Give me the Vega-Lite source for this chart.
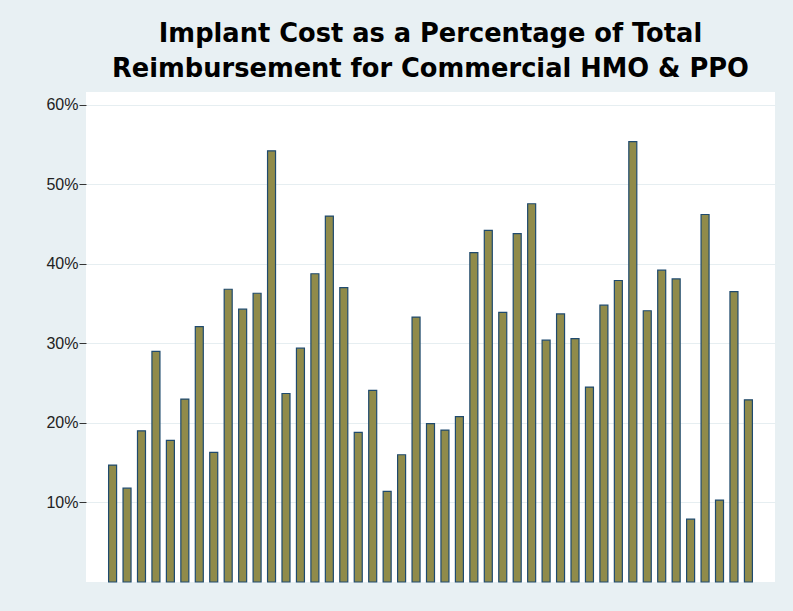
{
  "$schema": "https://vega.github.io/schema/vega-lite/v6.json",
  "width": 689,
  "height": 490,
  "autosize": {"type": "none"},
  "padding": {"left": 86, "top": 92, "right": 18, "bottom": 29},
  "background": "#e8f0f3",
  "title": {
    "text": ["Implant Cost as a Percentage of Total", "Reimbursement for Commercial HMO & PPO"],
    "font": "DejaVu Sans",
    "fontSize": 25.7,
    "fontWeight": "bold",
    "color": "#000000",
    "lineHeight": 35,
    "anchor": "middle",
    "offset": 9
  },
  "config": {
    "view": {"fill": "white", "stroke": null}
  },
  "data": {
    "values": [
      {"i": 1, "v": 14.7}, {"i": 2, "v": 11.8}, {"i": 3, "v": 19.0}, {"i": 4, "v": 29.0},
      {"i": 5, "v": 17.8}, {"i": 6, "v": 23.0}, {"i": 7, "v": 32.1}, {"i": 8, "v": 16.3},
      {"i": 9, "v": 36.8}, {"i": 10, "v": 34.3}, {"i": 11, "v": 36.3}, {"i": 12, "v": 54.2},
      {"i": 13, "v": 23.7}, {"i": 14, "v": 29.4}, {"i": 15, "v": 38.75}, {"i": 16, "v": 46.0},
      {"i": 17, "v": 37.0}, {"i": 18, "v": 18.8}, {"i": 19, "v": 24.1}, {"i": 20, "v": 11.4},
      {"i": 21, "v": 16.0}, {"i": 22, "v": 33.3}, {"i": 23, "v": 19.9}, {"i": 24, "v": 19.1},
      {"i": 25, "v": 20.8}, {"i": 26, "v": 41.4}, {"i": 27, "v": 44.2}, {"i": 28, "v": 33.9},
      {"i": 29, "v": 43.8}, {"i": 30, "v": 47.55}, {"i": 31, "v": 30.4}, {"i": 32, "v": 33.7},
      {"i": 33, "v": 30.6}, {"i": 34, "v": 24.5}, {"i": 35, "v": 34.8}, {"i": 36, "v": 37.9},
      {"i": 37, "v": 55.35}, {"i": 38, "v": 34.1}, {"i": 39, "v": 39.2}, {"i": 40, "v": 38.1},
      {"i": 41, "v": 7.9}, {"i": 42, "v": 46.2}, {"i": 43, "v": 10.3}, {"i": 44, "v": 36.5},
      {"i": 45, "v": 22.9}
    ]
  },
  "mark": {"type": "bar", "fill": "#908b4a", "stroke": "#1f4a6e", "strokeWidth": 1.2, "width": 8},
  "encoding": {
    "x": {
      "field": "i",
      "type": "quantitative",
      "axis": null,
      "scale": {"domain": [-0.84, 46.84], "nice": false, "zero": false, "padding": 0}
    },
    "y": {
      "field": "v",
      "type": "quantitative",
      "scale": {"domain": [0, 61.6], "nice": false, "zero": true},
      "axis": {
        "title": null,
        "values": [10, 20, 30, 40, 50, 60],
        "labelExpr": "datum.value + '%'",
        "labelFont": "Liberation Sans",
        "labelFontSize": 16,
        "labelColor": "#222222",
        "labelPadding": 1,
        "tickSize": 7,
        "tickColor": "#333333",
        "tickWidth": 1,
        "domain": false,
        "grid": true,
        "gridColor": "#e6eef1",
        "gridWidth": 1.2
      }
    }
  }
}
